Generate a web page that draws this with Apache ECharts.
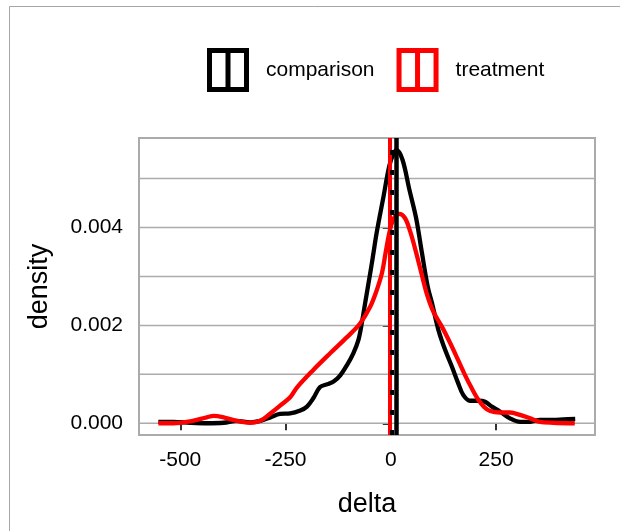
<!DOCTYPE html>
<html>
<head>
<meta charset="utf-8">
<script src="https://cdn.jsdelivr.net/npm/echarts@6/dist/echarts.min.js"></script>
<style>
  html, body { margin: 0; padding: 0; background: #fff; }
  #chart { width: 620px; height: 531px; }
</style>
</head>
<body>
<div id="chart"></div>
<script>
// density curves
const compDelta = [-552, -516, -476, -437, -397, -366, -334, -310, -286, -263, -239, -215, -199, -184, -168, -150, -135, -120, -104, -89, -77, -69, -61, -53, -45, -33, -18, -3, 8, 14, 28, 44, 60, 74, 88, 98, 113, 129, 145, 160, 172, 188, 208, 224, 240, 259, 283, 307, 331, 354, 386, 410, 438];
const compDensity = [0.00003, 0.00003, 0.00001, 0.0, 0.00001, 0.00005, 0.00002, 0.00005, 0.00012, 0.00019, 0.0002, 0.00026, 0.00034, 0.00051, 0.00074, 0.0008, 0.00086, 0.00098, 0.00119, 0.00143, 0.0017, 0.00204, 0.00245, 0.00286, 0.00327, 0.00392, 0.0046, 0.00528, 0.00553, 0.00558, 0.00538, 0.00478, 0.0042, 0.00348, 0.00278, 0.00245, 0.00191, 0.0015, 0.00116, 0.00082, 0.00058, 0.00046, 0.00046, 0.00044, 0.00034, 0.00024, 0.0001, 0.00003, 0.00003, 0.00007, 0.00007, 0.00008, 0.00009];

const treatDelta = [-552, -516, -476, -437, -421, -397, -366, -334, -310, -286, -263, -239, -223, -184, -144, -104, -73, -49, -33, -21, -12, -2, 8, 20, 34, 46, 58, 70, 85, 101, 121, 141, 160, 176, 192, 208, 222, 236, 259, 283, 307, 331, 354, 386, 437];
const treatDensity = [0.0, 0.0, 0.00004, 0.00012, 0.00015, 0.00012, 0.00005, 0.00001, 0.00005, 0.0002, 0.00036, 0.00053, 0.00073, 0.00109, 0.00143, 0.00176, 0.00204, 0.00238, 0.00273, 0.00307, 0.0035, 0.00395, 0.0042, 0.00428, 0.00419, 0.00392, 0.00356, 0.00316, 0.00266, 0.00228, 0.00198, 0.00164, 0.00129, 0.00099, 0.00072, 0.00048, 0.00033, 0.00025, 0.00022, 0.00022, 0.00017, 0.0001, 0.00003, 0.00001, 0.0];

// vertical reference lines
const compLine = 14;
const compDashLine = 2;
const treatLine = -2;

// axes
const xMin = -598;
const xMax = 485;
const xTicks = [-500, -250, 0, 250];
const yTicks = [0, 0.002, 0.004];
const yGrid = [0, 0.001, 0.002, 0.003, 0.004, 0.005];

const font = 'Liberation Sans, Arial, sans-serif';
const legendIcon = 'path://M0,0H42V44H0Z M5,5V39H18.5V5Z M23.5,5V39H37V5Z';

function pairs(xs, ys) {
  return xs.map((x, i) => [x, ys[i]]);
}

function vline(name, value, color, type, width, z) {
  return {
    name: name,
    type: 'line',
    data: [],
    z: z,
    markLine: {
      silent: true,
      symbol: 'none',
      label: { show: false },
      lineStyle: { color: color, width: width, type: type, cap: 'butt' },
      data: [{ xAxis: value }]
    }
  };
}

// horizontal grid lines as plain line series
const gridSeries = yGrid.map(v => ({
  name: 'grid' + v,
  type: 'line',
  data: [[xMin, v], [xMax, v]],
  silent: true,
  showSymbol: false,
  z: 1,
  lineStyle: { color: '#ababab', width: 1.5 }
}));

const chart = echarts.init(document.getElementById('chart'));

const option = {
  animation: false,
  backgroundColor: '#fff',
  textStyle: { fontFamily: font },
  graphic: [{
    type: 'polyline',
    silent: true,
    shape: { points: [[9.5, 531], [9.5, 6.5], [620, 6.5]] },
    style: { stroke: '#a6a6a6', lineWidth: 1, fill: null }
  }],
  legend: {
    left: 207,
    top: 48,
    padding: 0,
    itemWidth: 42,
    itemHeight: 44,
    itemGap: 22,
    data: [
      { name: 'comparison', icon: legendIcon },
      { name: 'treatment', icon: legendIcon }
    ],
    itemStyle: { borderWidth: 0 },
    textStyle: { fontFamily: font, fontSize: 21, color: '#000', padding: [0, 0, 0, 12] }
  },
  grid: {
    left: 139,
    right: 25,
    top: 138,
    bottom: 96,
    show: true,
    borderColor: '#ababab',
    borderWidth: 2,
    backgroundColor: '#fff'
  },
  xAxis: {
    type: 'value',
    min: xMin,
    max: xMax,
    name: 'delta',
    nameLocation: 'middle',
    nameGap: 56,
    nameTextStyle: { fontFamily: font, fontSize: 27, color: '#000' },
    axisLine: { show: false },
    splitLine: { show: false },
    axisTick: { show: true, length: 7, customValues: xTicks, lineStyle: { color: '#333', width: 2 } },
    axisLabel: { customValues: xTicks, margin: 15, fontFamily: font, fontSize: 21, color: '#000' }
  },
  yAxis: {
    type: 'value',
    min: -0.00024,
    max: 0.00583,
    name: 'density',
    nameLocation: 'middle',
    nameGap: 86,
    nameTextStyle: { fontFamily: font, fontSize: 27, color: '#000' },
    axisLine: { show: false },
    splitLine: { show: false },
    axisTick: { show: true, length: 8, customValues: yTicks, lineStyle: { color: '#333', width: 2 } },
    axisLabel: {
      customValues: yTicks,
      margin: 16,
      fontFamily: font,
      fontSize: 21,
      color: '#000',
      formatter: v => v.toFixed(3)
    }
  },
  series: gridSeries.concat([
    {
      name: 'comparison',
      type: 'line',
      data: pairs(compDelta, compDensity),
      color: '#000',
      smooth: 0.35,
      showSymbol: false,
      z: 3,
      lineStyle: { color: '#000', width: 4.3 },
      itemStyle: { color: '#000' }
    },
    {
      name: 'treatment',
      type: 'line',
      data: pairs(treatDelta, treatDensity),
      color: '#ff0000',
      smooth: 0.35,
      showSymbol: false,
      z: 4,
      lineStyle: { color: '#ff0000', width: 4.3 },
      itemStyle: { color: '#ff0000' }
    },
    vline('treatLine', treatLine, '#ff0000', 'solid', 4, 5),
    vline('compLine', compLine, '#000', 'solid', 4.5, 6),
    vline('compDashLine', compDashLine, '#000', [5, 15], 4, 6)
  ])
};

chart.setOption(option);
</script>
</body>
</html>
